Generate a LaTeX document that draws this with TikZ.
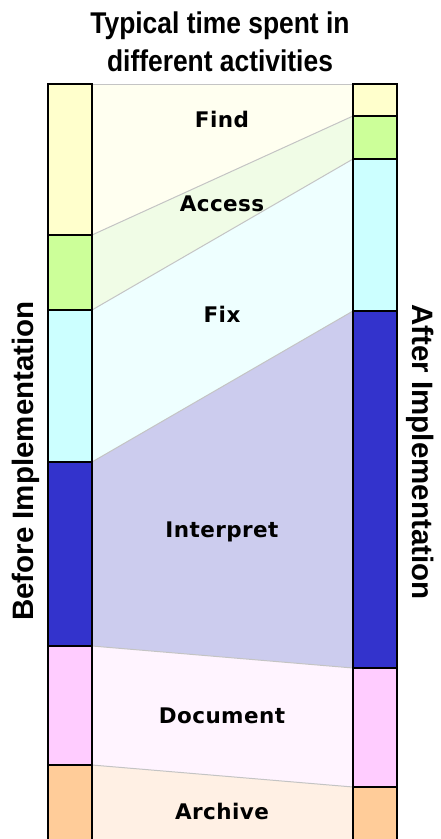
\documentclass[tikz,border=0pt]{standalone}
\usepackage{fontspec}
\setmainfont{Liberation Sans}
\newfontfamily\bandfont{DejaVu Sans}[LetterSpace=2]
\newfontfamily\titlefont{Liberation Sans}[FakeStretch=0.88]
\usetikzlibrary{backgrounds}

% bar segment colours
\definecolor{cFind}{HTML}{FFFFCC}
\definecolor{cAccess}{HTML}{CCFF99}
\definecolor{cFix}{HTML}{CCFFFF}
\definecolor{cInterp}{HTML}{3333CC}
\definecolor{cDoc}{HTML}{FFCCFF}
\definecolor{cArch}{HTML}{FFCC99}
% band colours
\definecolor{bFind}{HTML}{FFFFF0}
\definecolor{bAccess}{HTML}{F0FCE6}
\definecolor{bFix}{HTML}{EEFFFF}
\definecolor{bInterp}{HTML}{CCCCEE}
\definecolor{bDoc}{HTML}{FFF4FF}
\definecolor{bArch}{HTML}{FFF0E4}
\definecolor{edge}{HTML}{C4C4C4}

\tikzset{
  seg/.style={draw=black, line width=1.3pt, minimum width=44pt, inner sep=0pt,
              outer sep=0pt, anchor=north west},
  band/.style={draw=edge, line width=1pt},
  bandlabel/.style={font=\fontsize{21.5}{21.5}\bandfont\bfseries, anchor=base, inner sep=0pt},
  sidelabel/.style={font=\fontsize{29.5}{29.5}\selectfont\bfseries, anchor=base, inner sep=0pt},
  titlelabel/.style={font=\fontsize{30}{30}\titlefont\bfseries, anchor=base, inner sep=0pt}
}

\begin{document}
\begin{tikzpicture}[x=1pt,y=-1pt]
\useasboundingbox (0,0) rectangle (440,839);

% left bar (before)
\node[seg, fill=cFind,   minimum height=151pt] (L1) at (48,84)  {};
\node[seg, fill=cAccess, minimum height=75pt]  (L2) at (48,235) {};
\node[seg, fill=cFix,    minimum height=152pt] (L3) at (48,310) {};
\node[seg, fill=cInterp, minimum height=184pt] (L4) at (48,462) {};
\node[seg, fill=cDoc,    minimum height=119pt] (L5) at (48,646) {};
\node[seg, fill=cArch,   minimum height=78pt]  (L6) at (48,765) {};

% right bar (after)
\node[seg, fill=cFind,   minimum height=32pt]  (R1) at (353,84)  {};
\node[seg, fill=cAccess, minimum height=43pt]  (R2) at (353,116) {};
\node[seg, fill=cFix,    minimum height=152pt] (R3) at (353,159) {};
\node[seg, fill=cInterp, minimum height=357pt] (R4) at (353,311) {};
\node[seg, fill=cDoc,    minimum height=119pt] (R5) at (353,668) {};
\node[seg, fill=cArch,   minimum height=56pt]  (R6) at (353,787) {};

% bands joining matching segments
\begin{scope}[on background layer]
  \foreach \i/\c in {1/bFind,2/bAccess,3/bFix,4/bInterp,5/bDoc,6/bArch}{
    \fill[\c] (L\i.north east) -- (R\i.north west) -- (R\i.south west) -- (L\i.south east) -- cycle;
  }
  \foreach \i in {1,...,6}{
    \draw[band] (L\i.north east) -- (R\i.north west);
  }
\end{scope}

% band labels
\node[bandlabel] (tFind)   at (222,127) {Find};
\node[bandlabel] (tAccess) at (222,211) {Access};
\node[bandlabel] (tFix)    at (222,322) {Fix};
\node[bandlabel] (tInterp) at (222,537) {Interpret};
\node[bandlabel] (tDoc)    at (222,723) {Document};
\node[bandlabel] (tArch)   at (222,819) {Archive};

% title
\node[titlelabel] (title1) at (220,33) {Typical time spent in};
\node[titlelabel] (title2) at (220,71) {different activities};

% side labels
\node[sidelabel, rotate=90]  (before) at (33,461)  {Before Implementation};
\node[sidelabel, rotate=-90] (after)  at (412,452) {After Implementation};
\end{tikzpicture}
\end{document}
